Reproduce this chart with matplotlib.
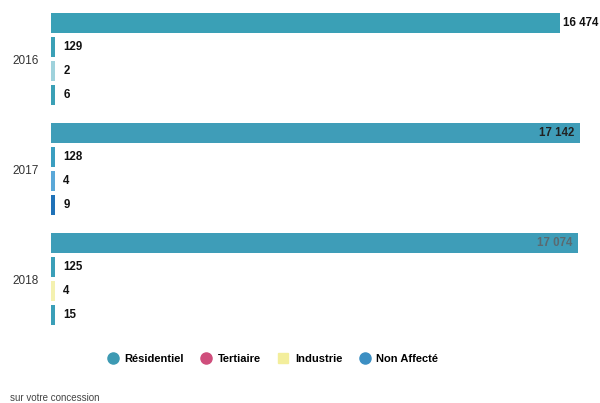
import numpy as np
import matplotlib.pyplot as plt
from matplotlib.lines import Line2D

plt.rcParams['font.family'] = ['Liberation Sans', 'DejaVu Sans']

years = ['2016', '2017', '2018']
series = ['Résidentiel', 'Tertiaire', 'Industrie', 'Non Affecté']

residentiel = [16474, 17142, 17074]
tertiaire = [129, 128, 125]
industrie = [2, 4, 4]
non_affecte = [6, 9, 15]

legend_colors = ['#3d9ab3', '#cf4e7c', '#f3ee9c', '#3c8fc3']
# fill colour of each bar, year by year
bar_colors = [
    ['#3aa0b6', '#3aa0b6', '#9fd2dc', '#3aa0b6'],
    ['#3f9db8', '#3a9ec0', '#5aa8d8', '#1f72b8'],
    ['#3e9db8', '#3a9fb8', '#f4f1b0', '#3a9fb8'],
]

values = np.array([residentiel, tertiaire, industrie, non_affecte]).T

fig = plt.figure(figsize=(6, 4.03), dpi=100)
ax = fig.add_axes([0.085, 1 - 334 / 403, 0.898, 330 / 403])

xmax = 17450
min_len = 120  # smallest drawn length so tiny values stay visible
step = 0.218
height = 0.18
fs = 8.3

for i, year in enumerate(years):
    for j in range(len(series)):
        v = values[i, j]
        y = i + (j - 1.5) * step
        ax.barh(y, max(v, min_len), height=height, color=bar_colors[i][j],
                edgecolor='none')
        label = f'{v:,}'.replace(',', ' ')
        if j == 0:
            if i == 0:
                ax.text(v + 120, y, label, ha='left', va='center',
                        fontsize=fs, fontweight='bold', color='#111111')
            else:
                col = '#222222' if i == 1 else '#5a6a70'
                ax.text(v - 180, y, label, ha='right', va='center',
                        fontsize=fs, fontweight='bold', color=col)
        else:
            ax.text(max(v, min_len) + 280, y, label, ha='left', va='center',
                    fontsize=fs, fontweight='bold', color='#111111')

ax.set_xlim(0, xmax)
ax.set_ylim(2.5, -0.5)
ax.set_yticks(range(len(years)))
ax.set_yticklabels(years, fontsize=8.5, color='#333333')
ax.tick_params(axis='y', length=0, pad=9)
ax.set_xticks([])
for s in ax.spines.values():
    s.set_visible(False)

handles = []
for name, c in zip(series, legend_colors):
    marker = 's' if name == 'Industrie' else 'o'
    handles.append(Line2D([], [], linestyle='none', marker=marker,
                          markersize=8 if marker == 'o' else 7,
                          markerfacecolor=c, markeredgecolor=c, label=name))
leg = fig.legend(handles=handles, loc='center', ncol=4,
                 bbox_to_anchor=(0.45, 1 - 359 / 403), frameon=False,
                 prop={'size': 8.0, 'weight': 'bold'}, handletextpad=0.05,
                 columnspacing=1.0)

fig.text(10 / 600, 1 - 398 / 403, 'sur votre concession', fontsize=7,
         color='#444444', va='center', ha='left')

fig.savefig('out.png', dpi=100)
